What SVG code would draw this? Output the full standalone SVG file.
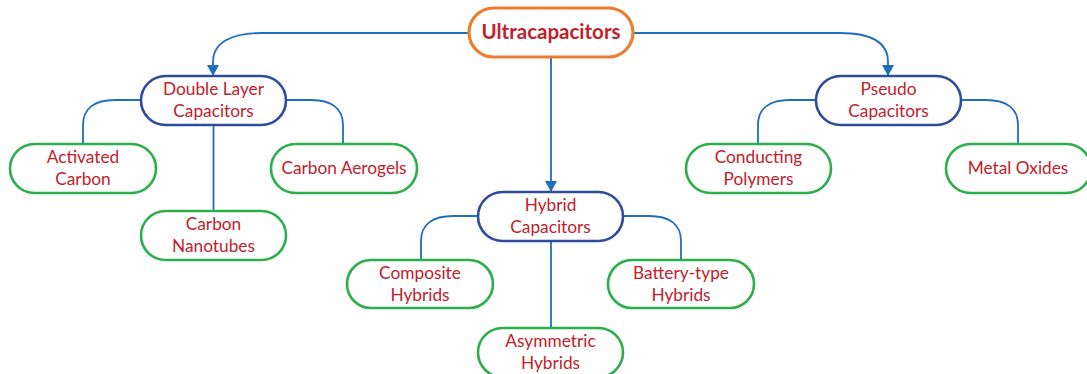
<svg xmlns="http://www.w3.org/2000/svg" width="1087" height="374" viewBox="0 0 1087 374">
<style>
.n rect{fill:#fff;stroke-width:2.6}
.root rect{stroke:#ED7D31;stroke-width:3.2}
.mid rect{stroke:#2F4B9C}
.leaf rect{stroke:#2BAF4A}
text{font-family:Lato,"Open Sans",sans-serif;font-size:17.3px;fill:#C0212B;text-anchor:middle}
.root text{font-weight:bold;font-size:20.5px}
.c path{fill:none;stroke:#1F6FBE;stroke-width:1.8}
</style>
<defs>
<marker id="ah" markerUnits="userSpaceOnUse" markerWidth="13" markerHeight="13" refX="11" refY="6" orient="auto" viewBox="0 0 13 13">
<path d="M0,0 L11,6 L0,12 Z" fill="#1F6FBE"/>
</marker>
</defs>
<g class="c" id="connectors">
<path d="M468,33 H262 C232,33 213,42 213,62 V76" marker-end="url(#ah)"/>
<path d="M633,33 H840 C870,33 888,42 888,62 V76" marker-end="url(#ah)"/>
<path d="M551,58 V192" marker-end="url(#ah)"/>
<path d="M141,100 H115 C95,100 83,108 83,125 V144"/>
<path d="M286,100 H311 C331,100 343,108 343,125 V144"/>
<path d="M213.5,125 V211"/>
<path d="M816,100 H790 C770,100 758,108 758,125 V144"/>
<path d="M961,100 H986 C1006,100 1018,108 1018,125 V144"/>
<path d="M478,216 H453 C433,216 421,224 421,241 V260"/>
<path d="M623,216 H649 C669,216 681,224 681,241 V260"/>
<path d="M551,241 V328"/>
</g>
<g id="ultracapacitors" class="n root"><rect x="469" y="8" width="164" height="49" rx="24.5"/><text x="551" y="39">Ultracapacitors</text></g>
<g id="double-layer" class="n mid"><rect x="141" y="76" width="145" height="49" rx="24.5"/><text x="213.5" y="95">Double Layer</text><text x="213.5" y="117">Capacitors</text></g>
<g id="pseudo" class="n mid"><rect x="816" y="76" width="145" height="49" rx="24.5"/><text x="888.5" y="95">Pseudo</text><text x="888.5" y="117">Capacitors</text></g>
<g id="hybrid" class="n mid"><rect x="478" y="192" width="145" height="49" rx="24.5"/><text x="550.5" y="211">Hybrid</text><text x="550.5" y="233">Capacitors</text></g>
<g id="activated-carbon" class="n leaf"><rect x="10" y="144" width="146" height="49" rx="24.5"/><text x="83" y="163">Activated</text><text x="83" y="185">Carbon</text></g>
<g id="carbon-aerogels" class="n leaf"><rect x="271" y="144" width="146" height="49" rx="24.5"/><text x="344" y="174">Carbon Aerogels</text></g>
<g id="carbon-nanotubes" class="n leaf"><rect x="141" y="211" width="145" height="49" rx="24.5"/><text x="213.5" y="230">Carbon</text><text x="213.5" y="252">Nanotubes</text></g>
<g id="conducting-polymers" class="n leaf"><rect x="686" y="144" width="145" height="49" rx="24.5"/><text x="758.5" y="163">Conducting</text><text x="758.5" y="185">Polymers</text></g>
<g id="metal-oxides" class="n leaf"><rect x="946" y="144" width="145" height="49" rx="24.5"/><text x="1018" y="174">Metal Oxides</text></g>
<g id="composite-hybrids" class="n leaf"><rect x="347" y="260" width="146" height="48" rx="24"/><text x="420" y="279">Composite</text><text x="420" y="301">Hybrids</text></g>
<g id="battery-type-hybrids" class="n leaf"><rect x="608" y="260" width="146" height="48" rx="24"/><text x="681" y="279">Battery-type</text><text x="681" y="301">Hybrids</text></g>
<g id="asymmetric-hybrids" class="n leaf"><rect x="478" y="328" width="145" height="49" rx="24.5"/><text x="550.5" y="347">Asymmetric</text><text x="550.5" y="369">Hybrids</text></g>
</svg>
